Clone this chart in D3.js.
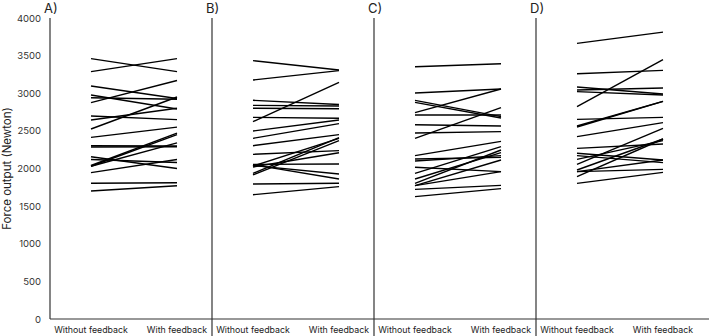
<!DOCTYPE html>
<html>
<head>
<meta charset="utf-8">
<script src="https://cdn.jsdelivr.net/npm/d3@7"></script>
<style>
  body { margin: 0; background: #fff; }
  text { font-family: Inter, "Open Sans", sans-serif; fill: #222; }
</style>
</head>
<body>
<div id="chart"></div>
<script>
const width = 709;
const height = 336;

// Panels and conditions
const panels = ['A)', 'B)', 'C)', 'D)'];
const conditions = ['Without feedback', 'With feedback'];
const yTicks = [0, 500, 1000, 1500, 2000, 2500, 3000, 3500, 4000];

// Each pair is [without feedback, with feedback] for one participant
const panelA = [
  [3460, 3287], [3287, 3460], [3096, 2930], [2977, 2790], [2941, 2920],
  [2875, 3170], [2698, 2650], [2645, 2800], [2525, 2950], [2414, 2550],
  [2303, 2300], [2286, 2290], [2157, 2000], [2040, 2470], [2030, 2450],
  [2030, 2340], [2120, 2080], [1945, 2120], [1803, 1810], [1701, 1770]
];
const panelB = [
  [3433, 3309], [3176, 3300], [2906, 2850], [2839, 2830], [2800, 2795],
  [2622, 3145], [2680, 2667], [2498, 2645], [2401, 2596], [2303, 2450],
  [2188, 2237], [2055, 2060], [2033, 2401], [1936, 2410], [1914, 2370],
  [2020, 2210], [2040, 1927], [2050, 1860], [1794, 1803], [1652, 1759]
];
const panelC = [
  [3353, 3393], [3003, 3056], [2742, 3056], [2906, 2689], [2879, 2671],
  [2711, 2711], [2582, 2565], [2472, 2490], [2401, 2808], [2171, 2361],
  [2126, 2148], [2100, 2171], [2016, 1958], [1936, 2290], [1861, 2210],
  [1803, 2246], [1772, 2113], [1772, 1958], [1723, 1776], [1626, 1732]
];
const panelD = [
  [3663, 3813], [3260, 3304], [2822, 3446], [3083, 2990], [3043, 3070],
  [3021, 2977], [2653, 2680], [2565, 2892], [2551, 2892], [2423, 2609],
  [2268, 2326], [2202, 2113], [2171, 2078], [2122, 2370], [2055, 2534],
  [1980, 2392], [1958, 1989], [1892, 2392], [1958, 2113], [1803, 1949]
];
const panelData = [panelA, panelB, panelC, panelD];

const margin = { top: 18, bottom: 17, left: 50 };

const svg = d3.select('#chart')
  .append('svg')
  .attr('width', width)
  .attr('height', height);

const y = d3.scaleLinear()
  .domain([0, 4000])
  .range([height - margin.bottom, margin.top]);

const panelX = d3.scaleBand()
  .domain(panels)
  .range([margin.left, margin.left + 162 * 4]);

const condX = d3.scalePoint()
  .domain(conditions)
  .range([41, 127]);

// y axis (labels only, no tick marks)
const yAxis = svg.append('g')
  .attr('transform', `translate(${margin.left},0)`)
  .call(d3.axisLeft(y).tickValues(yTicks).tickFormat(d3.format('d')).tickSize(0).tickPadding(9));
yAxis.select('.domain').remove();
yAxis.selectAll('text')
  .style('font-size', '9.5px')
  .style('fill', '#333');

svg.append('text')
  .attr('transform', `translate(11,${y(2000)}) rotate(-90)`)
  .attr('text-anchor', 'middle')
  .style('font-size', '11.5px')
  .text('Force output (Newton)');

// baseline
svg.append('line')
  .attr('x1', margin.left).attr('x2', width)
  .attr('y1', y(0)).attr('y2', y(0))
  .style('stroke', '#333').style('stroke-width', 1.2);

panels.forEach(function (p, i) {
  const x0 = panelX(p);
  const g = svg.append('g').attr('transform', `translate(${x0},0)`);

  // vertical axis / separator
  g.append('line')
    .attr('x1', 0).attr('x2', 0)
    .attr('y1', y(4000)).attr('y2', i === 0 ? y(0) : height)
    .style('stroke', '#333').style('stroke-width', 1.2);

  g.append('text')
    .attr('x', -6)
    .attr('y', 13)
    .style('font-size', '13px')
    .text(p);

  g.selectAll('.cond')
    .data(conditions)
    .enter()
    .append('text')
    .attr('class', 'cond')
    .attr('x', d => condX(d))
    .attr('y', height - 3)
    .attr('text-anchor', 'middle')
    .style('font-size', '8.8px')
    .text(d => d);

  g.selectAll('.pair')
    .data(panelData[i])
    .enter()
    .append('line')
    .attr('class', 'pair')
    .attr('x1', condX(conditions[0]))
    .attr('x2', condX(conditions[1]))
    .attr('y1', d => y(d[0]))
    .attr('y2', d => y(d[1]))
    .style('stroke', '#000')
    .style('stroke-width', 1.4);
});
</script>
</body>
</html>
